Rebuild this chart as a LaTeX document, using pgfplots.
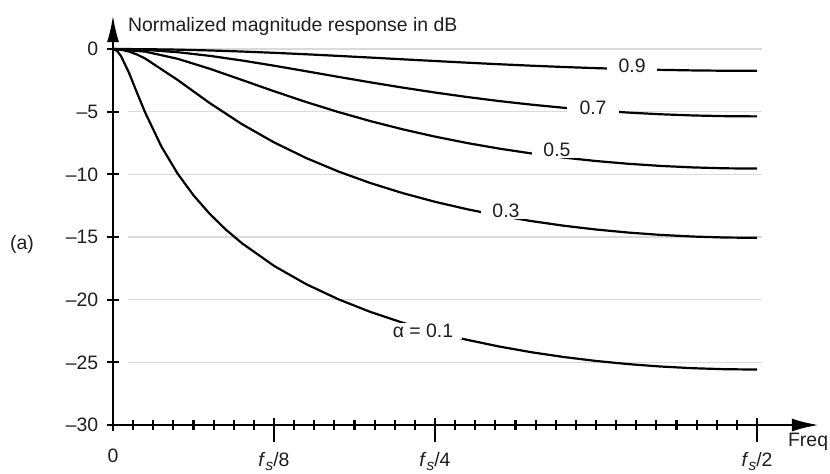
\documentclass[border=0pt]{standalone}
\usepackage{fontspec}
\setmainfont{Liberation Sans}
\usepackage{pgfplots}
\pgfplotsset{compat=1.18}
\usetikzlibrary{arrows.meta}
\definecolor{gridgray}{RGB}{218,218,218}
\definecolor{txt}{RGB}{30,30,30}
\begin{document}
\begin{tikzpicture}[font=\fontsize{19.5}{22}\selectfont]
\begin{axis}[
 scale only axis, width=706bp, height=410bp,
 xmin=0, xmax=0.5481, ymin=-30, ymax=2.71,
 axis lines=left,
 axis line style={line width=2.5bp, black},
 x axis line style={-{Latex[length=27bp,width=13bp]}},
 y axis line style={-{Latex[length=27bp,width=12bp]}},
 clip=false,
 ytick={-30,-25,-20,-15,-10,-5,0},
 yticklabels={\textendash30,\textendash25,\textendash20,\textendash15,\textendash10,\textendash5,0},
 xtick={0}, xticklabels={0},
 minor xtick={0.015625,0.03125,0.046875,0.0625,0.078125,0.09375,0.109375,0.140625,0.15625,0.171875,0.1875,0.203125,0.21875,0.234375,0.265625,0.28125,0.296875,0.3125,0.328125,0.34375,0.359375,0.375,0.390625,0.40625,0.421875,0.4375,0.453125,0.46875,0.484375},
 tick align=center,
 major tick length=12bp, minor tick length=10bp,
 tick style={black, line width=2.2bp},
 extra x ticks={0.125,0.25,0.5},
 extra x tick labels={{\textit{f}\raisebox{-0.45ex}{\fontsize{15.5}{15.5}\selectfont\textit{s}}/8},{\textit{f}\raisebox{-0.45ex}{\fontsize{15.5}{15.5}\selectfont\textit{s}}/4},{\textit{f}\raisebox{-0.45ex}{\fontsize{15.5}{15.5}\selectfont\textit{s}}/2}},
 extra x tick style={major tick length=24bp, major tick style={yshift=-5bp}, xticklabel style={yshift=3bp}},
 /pgf/number format/assume math mode=true,
 yticklabel style={anchor=east, inner sep=0pt, xshift=-8.5bp, text=txt},
 xticklabel style={anchor=north, inner sep=0pt, yshift=-18bp, text=txt},
]
% grid lines
\addplot[gridgray, line width=1.5bp, forget plot] coordinates {(0.0116,0) (0.504,0)};
\addplot[gridgray, line width=1.5bp, forget plot] coordinates {(0.0116,-5) (0.504,-5)};
\addplot[gridgray, line width=1.5bp, forget plot] coordinates {(0.0116,-10) (0.504,-10)};
\addplot[gridgray, line width=1.5bp, forget plot] coordinates {(0.0116,-15) (0.504,-15)};
\addplot[gridgray, line width=1.5bp, forget plot] coordinates {(0.0116,-20) (0.504,-20)};
\addplot[gridgray, line width=1.5bp, forget plot] coordinates {(0.0116,-25) (0.504,-25)};
% alpha = 0.9
\addplot[black, line width=2.2bp, line join=round] coordinates {
(0,0) (0.025,-0.013) (0.05,-0.052) (0.075,-0.115) (0.1,-0.200) (0.125,-0.303)
(0.15,-0.421) (0.175,-0.549) (0.2,-0.684) (0.225,-0.822) (0.25,-0.958)
(0.275,-1.091) (0.3,-1.216) (0.325,-1.332) (0.35,-1.436) (0.375,-1.527)
(0.4,-1.604) (0.425,-1.664) (0.45,-1.708) (0.475,-1.734) (0.5,-1.743)};
% alpha = 0.7
\addplot[black, line width=2.2bp, line join=round] coordinates {
(0,0) (0.025,-0.065) (0.05,-0.253) (0.075,-0.544) (0.1,-0.913) (0.125,-1.331)
(0.15,-1.774) (0.175,-2.224) (0.2,-2.662) (0.225,-3.081) (0.25,-3.472)
(0.275,-3.831) (0.3,-4.155) (0.325,-4.441) (0.35,-4.690) (0.375,-4.900)
(0.4,-5.072) (0.425,-5.206) (0.45,-5.301) (0.475,-5.358) (0.5,-5.377)};
% alpha = 0.5
\addplot[black, line width=2.2bp, line join=round] coordinates {
(0,0) (0.025,-0.209) (0.05,-0.776) (0.075,-1.571) (0.1,-2.465) (0.125,-3.368)
(0.15,-4.230) (0.175,-5.030) (0.2,-5.757) (0.225,-6.409) (0.25,-6.990)
(0.275,-7.502) (0.3,-7.949) (0.325,-8.335) (0.35,-8.664) (0.375,-8.937)
(0.4,-9.157) (0.425,-9.327) (0.45,-9.447) (0.475,-9.519) (0.5,-9.542)};
% alpha = 0.3
\addplot[black, line width=2.2bp, line join=round] coordinates {
(0,0) (0.00625,-0.052) (0.0125,-0.204) (0.01875,-0.445) (0.025,-0.761)
(0.05,-2.458) (0.075,-4.306) (0.1,-5.989) (0.125,-7.448)
(0.15,-8.700) (0.175,-9.774) (0.2,-10.700) (0.225,-11.499) (0.25,-12.190)
(0.275,-12.785) (0.3,-13.297) (0.325,-13.732) (0.35,-14.099) (0.375,-14.402)
(0.4,-14.645) (0.425,-14.831) (0.45,-14.962) (0.475,-15.041) (0.5,-15.067)};
% alpha = 0.1
\addplot[black, line width=2.2bp, line join=round] coordinates {
(0,0) (0.003125,-0.148) (0.00625,-0.565) (0.0125,-1.917) (0.01875,-3.518)
(0.025,-5.073) (0.0375,-7.762) (0.05,-9.916) (0.0625,-11.674) (0.075,-13.142)
(0.0875,-14.397) (0.1,-15.487) (0.125,-17.301) (0.15,-18.762) (0.175,-19.969)
(0.2,-20.983) (0.225,-21.842) (0.25,-22.577) (0.275,-23.205) (0.3,-23.741)
(0.325,-24.195) (0.35,-24.576) (0.375,-24.889) (0.4,-25.140) (0.425,-25.332)
(0.45,-25.468) (0.475,-25.548) (0.5,-25.575)};
% curve labels
\node[fill=white, inner xsep=11.7bp, inner ysep=1bp, text=txt] at (axis cs:0.4030,-1.356) {0.9};
\node[fill=white, inner xsep=12.2bp, inner ysep=1bp, text=txt] at (axis cs:0.3727,-4.71) {0.7};
\node[fill=white, inner xsep=11.7bp, inner ysep=1bp, text=txt] at (axis cs:0.3447,-8.06) {0.5};
\node[fill=white, inner xsep=11.7bp, inner ysep=1bp, text=txt] at (axis cs:0.3051,-12.93) {0.3};
\node[fill=white, inner xsep=8.5bp, inner ysep=1bp, text=txt] at (axis cs:0.2407,-22.50) {α = 0.1};
% other text
\node[anchor=base west, inner sep=0pt, text=txt] at (axis cs:0.0116,1.36) {Normalized magnitude response in dB};
\node[text=txt] at (axis cs:-0.0707,-15.56) {(a)};
\node[anchor=west, inner sep=0pt, text=txt] at (axis cs:0.524,-31.36) {Freq};
\coordinate (bl) at (axis cs:-0.08773,-33.83);
\coordinate (tr) at (axis cs:0.55668,3.910);
\end{axis}
\pgfresetboundingbox
\path[use as bounding box] (bl) rectangle (tr);
\end{tikzpicture}
\end{document}
